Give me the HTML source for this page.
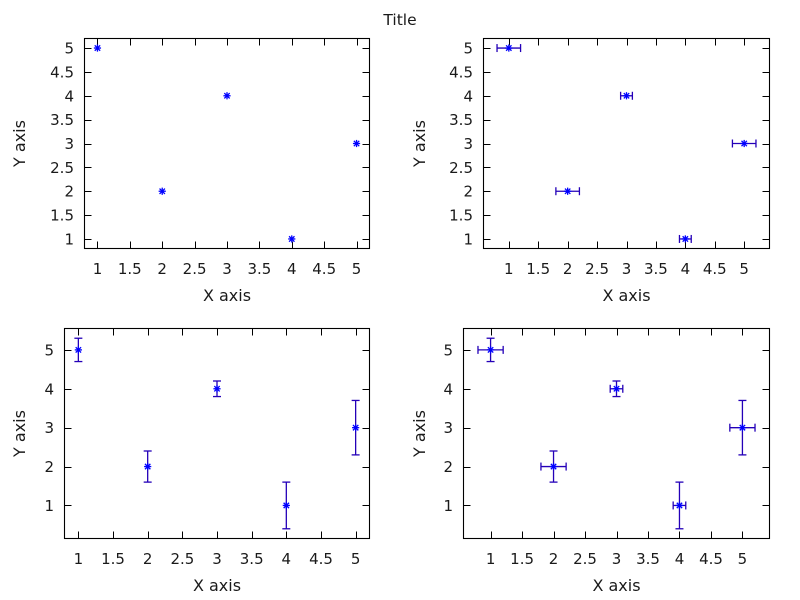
<!DOCTYPE html>
<html>
<head>
<meta charset="utf-8">
<style>
  html, body { margin: 0; padding: 0; background: #fff; }
  svg { display: block; }
  text { font-family: "DejaVu Sans", "Liberation Sans", sans-serif; fill: #1a1a1a; }
  .tk { font-size: 15px; }
  .lb { font-size: 16px; }
</style>
</head>
<body>
<svg id="s" width="800" height="600" viewBox="0 0 800 600" xmlns="http://www.w3.org/2000/svg">
  <rect x="0" y="0" width="800" height="600" fill="#fff"/>
  <text x="400" y="25" text-anchor="middle" style="font-size:15.5px">Title</text>

  <!-- Panel 1 labels -->
  <g class="tk" text-anchor="middle">
    <text x="97.5" y="274">1</text><text x="129.8" y="274">1.5</text><text x="162.2" y="274">2</text>
    <text x="194.6" y="274">2.5</text><text x="227" y="274">3</text><text x="259.4" y="274">3.5</text>
    <text x="291.8" y="274">4</text><text x="324.2" y="274">4.5</text><text x="356.5" y="274">5</text>
  </g>
  <g class="tk" text-anchor="end">
    <text x="74" y="244.4">1</text><text x="74" y="220.6">1.5</text><text x="74" y="196.7">2</text>
    <text x="74" y="172.9">2.5</text><text x="74" y="149">3</text><text x="74" y="125.1">3.5</text>
    <text x="74" y="101.3">4</text><text x="74" y="77.4">4.5</text><text x="74" y="53.5">5</text>
  </g>
  <text class="lb" x="227" y="301" text-anchor="middle">X axis</text>
  <text class="lb" transform="translate(25,143.5) rotate(-90)" text-anchor="middle">Y axis</text>

  <!-- Panel 2 labels -->
  <g class="tk" text-anchor="middle">
    <text x="508.8" y="274">1</text><text x="538.2" y="274">1.5</text><text x="567.7" y="274">2</text>
    <text x="597.1" y="274">2.5</text><text x="626.5" y="274">3</text><text x="655.9" y="274">3.5</text>
    <text x="685.4" y="274">4</text><text x="714.8" y="274">4.5</text><text x="744.2" y="274">5</text>
  </g>
  <g class="tk" text-anchor="end">
    <text x="473" y="244.4">1</text><text x="473" y="220.6">1.5</text><text x="473" y="196.7">2</text>
    <text x="473" y="172.9">2.5</text><text x="473" y="149">3</text><text x="473" y="125.1">3.5</text>
    <text x="473" y="101.3">4</text><text x="473" y="77.4">4.5</text><text x="473" y="53.5">5</text>
  </g>
  <text class="lb" x="626.5" y="301" text-anchor="middle">X axis</text>
  <text class="lb" transform="translate(425,143.5) rotate(-90)" text-anchor="middle">Y axis</text>

  <!-- Panel 3 labels -->
  <g class="tk" text-anchor="middle">
    <text x="78.4" y="564">1</text><text x="113" y="564">1.5</text><text x="147.7" y="564">2</text>
    <text x="182.4" y="564">2.5</text><text x="217" y="564">3</text><text x="251.7" y="564">3.5</text>
    <text x="286.3" y="564">4</text><text x="321" y="564">4.5</text><text x="355.7" y="564">5</text>
  </g>
  <g class="tk" text-anchor="end">
    <text x="54" y="510.9">1</text><text x="54" y="472">2</text><text x="54" y="433.2">3</text>
    <text x="54" y="394.3">4</text><text x="54" y="355.4">5</text>
  </g>
  <text class="lb" x="217" y="591" text-anchor="middle">X axis</text>
  <text class="lb" transform="translate(25,433.5) rotate(-90)" text-anchor="middle">Y axis</text>

  <!-- Panel 4 labels -->
  <g class="tk" text-anchor="middle">
    <text x="490.6" y="564">1</text><text x="522.1" y="564">1.5</text><text x="553.5" y="564">2</text>
    <text x="585" y="564">2.5</text><text x="616.5" y="564">3</text><text x="648" y="564">3.5</text>
    <text x="679.5" y="564">4</text><text x="711" y="564">4.5</text><text x="742.4" y="564">5</text>
  </g>
  <g class="tk" text-anchor="end">
    <text x="453" y="510.9">1</text><text x="453" y="472">2</text><text x="453" y="433.2">3</text>
    <text x="453" y="394.3">4</text><text x="453" y="355.4">5</text>
  </g>
  <text class="lb" x="616.5" y="591" text-anchor="middle">X axis</text>
  <text class="lb" transform="translate(425,433.5) rotate(-90)" text-anchor="middle">Y axis</text>

  <g id="geo"></g>
</svg>
<script>
(function(){
  var NS = "http://www.w3.org/2000/svg";
  var g = document.getElementById("geo");
  function line(x1,y1,x2,y2,col,w){
    var l = document.createElementNS(NS,"line");
    l.setAttribute("x1",x1); l.setAttribute("y1",y1);
    l.setAttribute("x2",x2); l.setAttribute("y2",y2);
    l.setAttribute("stroke",col); l.setAttribute("stroke-width",w||1);
    g.appendChild(l);
  }
  var data = [[1,5,0.2,0.3],[2,2,0.2,0.4],[3,4,0.1,0.2],[4,1,0.1,0.6],[5,3,0.2,0.7]];
  var panels = [
    {L:84.5,R:369.5,T:38.5,B:248.5,x0:0.8,x1:5.2,y0:0.8,y1:5.2,yt:[1,1.5,2,2.5,3,3.5,4,4.5,5],xe:false,ye:false},
    {L:483.5,R:769.5,T:38.5,B:248.5,x0:0.57,x1:5.43,y0:0.8,y1:5.2,yt:[1,1.5,2,2.5,3,3.5,4,4.5,5],xe:true,ye:false},
    {L:64.5,R:369.5,T:328.5,B:538.5,x0:0.8,x1:5.2,y0:0.15,y1:5.55,yt:[1,2,3,4,5],xe:false,ye:true},
    {L:463.5,R:769.5,T:328.5,B:538.5,x0:0.57,x1:5.43,y0:0.15,y1:5.55,yt:[1,2,3,4,5],xe:true,ye:true}
  ];
  var xt = [1,1.5,2,2.5,3,3.5,4,4.5,5];
  var EC = "#2400b8", PC = "#0000ff";
  panels.forEach(function(p){
    function X(v){ return p.L + (v-p.x0)*(p.R-p.L)/(p.x1-p.x0); }
    function Y(v){ return p.B - (v-p.y0)*(p.B-p.T)/(p.y1-p.y0); }
    // ticks
    xt.forEach(function(v){
      var x = Math.round(X(v))+0.5;
      line(x,p.B,x,p.B-7,"#000",1);
      line(x,p.T,x,p.T+7,"#000",1);
    });
    p.yt.forEach(function(v){
      var y = Math.round(Y(v))+0.5;
      line(p.L,y,p.L+7,y,"#000",1);
      line(p.R,y,p.R-7,y,"#000",1);
    });
    // frame
    var r = document.createElementNS(NS,"rect");
    r.setAttribute("x",p.L); r.setAttribute("y",p.T);
    r.setAttribute("width",p.R-p.L); r.setAttribute("height",p.B-p.T);
    r.setAttribute("fill","none"); r.setAttribute("stroke","#000"); r.setAttribute("stroke-width",1.1);
    g.appendChild(r);
    // data
    data.forEach(function(d){
      var cx = X(d[0]), cy = Y(d[1]);
      if (p.ye){
        var ya = Y(d[1]+d[3]), yb = Y(d[1]-d[3]);
        line(cx,ya,cx,yb,EC,1.3);
        line(cx-4,ya,cx+4,ya,EC,1.3);
        line(cx-4,yb,cx+4,yb,EC,1.3);
      }
      if (p.xe){
        var xa = X(d[0]-d[2]), xb = X(d[0]+d[2]);
        line(xa,cy,xb,cy,EC,1.3);
        line(xa,cy-4,xa,cy+4,EC,1.3);
        line(xb,cy-4,xb,cy+4,EC,1.3);
      }
      var s = 3.6;
      line(cx-s,cy,cx+s,cy,PC,1.3);
      line(cx,cy-s,cx,cy+s,PC,1.3);
      line(cx-s*0.75,cy-s*0.75,cx+s*0.75,cy+s*0.75,PC,1.3);
      line(cx-s*0.75,cy+s*0.75,cx+s*0.75,cy-s*0.75,PC,1.3);
    });
  });
})();
</script>
</body>
</html>
